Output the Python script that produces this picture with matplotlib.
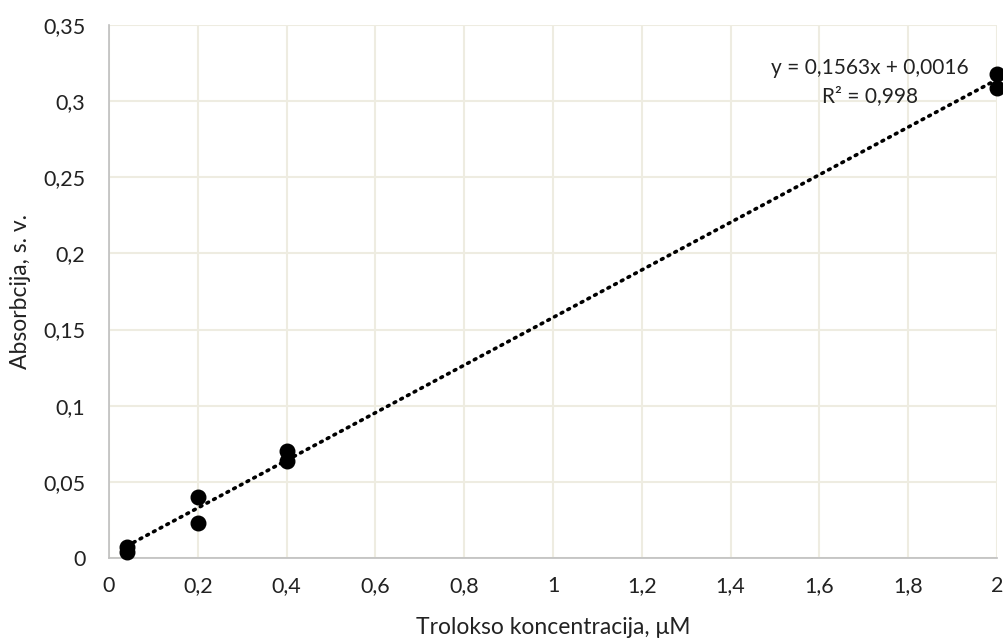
import numpy as np
import matplotlib
matplotlib.use("Agg")
import matplotlib.pyplot as plt
from matplotlib.ticker import FuncFormatter, MultipleLocator

plt.rcParams['font.family'] = ['Lato', 'DejaVu Sans']

conc = [0.04, 0.04, 0.2, 0.2, 0.4, 0.4, 2.0, 2.0]
absorb = [0.0039, 0.0072, 0.023, 0.040, 0.064, 0.070, 0.3087, 0.318]
eq_text = "y = 0,1563x + 0,0016"
r2_text = "R² = 0,998"
slope, intercept = 0.1563, 0.0016

fig = plt.figure(figsize=(10.04, 6.42), dpi=100)
ax = fig.add_axes([109/1004, 1-558/642, (997-109)/1004, (558-25)/642])

ax.set_xlim(0, 2)
ax.set_ylim(0, 0.35)
ax.xaxis.set_major_locator(MultipleLocator(0.2))
ax.yaxis.set_major_locator(MultipleLocator(0.05))

def fmt(v, pos):
    s = ("%.2f" % v).rstrip('0').rstrip('.')
    return s.replace('.', ',')
ax.xaxis.set_major_formatter(FuncFormatter(fmt))
ax.yaxis.set_major_formatter(FuncFormatter(fmt))

ax.grid(True, color='#EEECE1', linewidth=1.5, zorder=0)
ax.set_axisbelow(True)
for s in ['top', 'right']:
    ax.spines[s].set_visible(False)
for s in ['left', 'bottom']:
    ax.spines[s].set_color('#BFBFBF')
    ax.spines[s].set_linewidth(1.2)
ax.tick_params(length=0, labelsize=15.5, colors='#222222')
ax.tick_params(axis='x', pad=13)
ax.tick_params(axis='y', pad=17)

xs = np.array([min(conc), max(conc)])
ax.plot(xs, slope*xs + intercept, color='black', linewidth=2.6,
        linestyle=(0, (0.5, 1.6)), dash_capstyle='round', zorder=3, clip_on=False)
ax.scatter(conc, absorb, s=110, color='black', zorder=4, clip_on=False)

ax.text(1.714, 0.322, eq_text, ha='center', va='center', fontsize=15, color='#222222')
ax.text(1.714, 0.3034, r2_text, ha='center', va='center', fontsize=15, color='#222222')

ax.set_xlabel("Trolokso koncentracija, μM", fontsize=16.5, color='#222222', labelpad=15)
ax.set_ylabel("Absorbcija, s. v.", fontsize=16.5, color='#222222', labelpad=9)

fig.savefig("out.png", dpi=100)
